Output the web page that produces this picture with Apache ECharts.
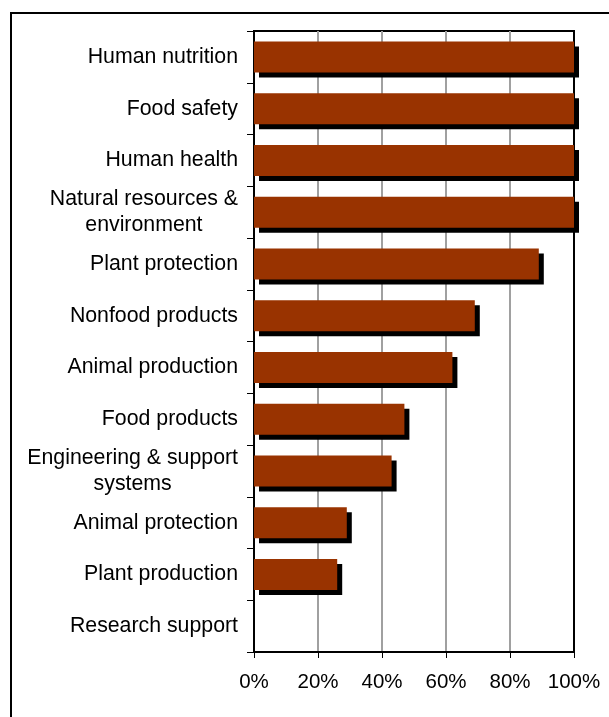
<!DOCTYPE html>
<html>
<head>
<meta charset="utf-8">
<script src="https://cdn.jsdelivr.net/npm/echarts@6/dist/echarts.min.js"></script>
<style>
html,body{margin:0;padding:0;background:#fff;}
#chart{width:609px;height:717px;}
</style>
</head>
<body>
<div id="chart"></div>
<script>
var categories = [
  'Human nutrition',
  'Food safety',
  'Human health',
  'Natural resources &\nenvironment',
  'Plant protection',
  'Nonfood products',
  'Animal production',
  'Food products',
  'Engineering & support\nsystems',
  'Animal protection',
  'Plant production',
  'Research support'
];
var shares = [100, 100, 100, 100, 89, 69, 62, 47, 43, 29, 26, 0];
var tickValues = [0, 20, 40, 60, 80, 100];

var chart = echarts.init(document.getElementById('chart'), null, {renderer: 'canvas'});
var font = '"Liberation Sans", Arial, sans-serif';
chart.setOption({
  animation: false,
  backgroundColor: '#fff',
  graphic: [{
    type: 'rect',
    shape: {x: 11, y: 13, width: 700, height: 800},
    style: {fill: null, stroke: '#000', lineWidth: 2},
    silent: true
  }],
  grid: {
    left: 254, right: 35, top: 31, bottom: 65,
    show: true, borderColor: '#000', borderWidth: 2, backgroundColor: 'transparent'
  },
  xAxis: {
    type: 'value',
    min: tickValues[0],
    max: tickValues[tickValues.length - 1],
    interval: tickValues[1] - tickValues[0],
    axisLine: {show: true, lineStyle: {color: '#000', width: 2}},
    axisTick: {show: true, length: 6, lineStyle: {color: '#000', width: 1}},
    axisLabel: {
      formatter: '{value}%', color: '#000', fontSize: 20.5, fontFamily: font, margin: 20
    },
    splitLine: {show: true, showMinLine: false, showMaxLine: false, lineStyle: {color: '#a0a0a0', width: 2}}
  },
  yAxis: {
    type: 'category',
    inverse: true,
    data: categories,
    axisLine: {show: true, lineStyle: {color: '#000', width: 2}},
    axisTick: {show: true, length: 7, lineStyle: {color: '#000', width: 1}},
    axisLabel: {
      margin: 16,
      formatter: function (v) { return '{c|' + v + '}'; },
      rich: {
        c: {align: 'center', color: '#000', fontSize: 21.3, fontFamily: font, lineHeight: 26}
      }
    },
    splitLine: {show: false}
  },
  series: [{
    type: 'bar',
    data: shares,
    barWidth: 31,
    itemStyle: {
      color: '#993300',
      shadowColor: '#000',
      shadowBlur: 0,
      shadowOffsetX: 5,
      shadowOffsetY: 5
    }
  }]
});
</script>
</body>
</html>
